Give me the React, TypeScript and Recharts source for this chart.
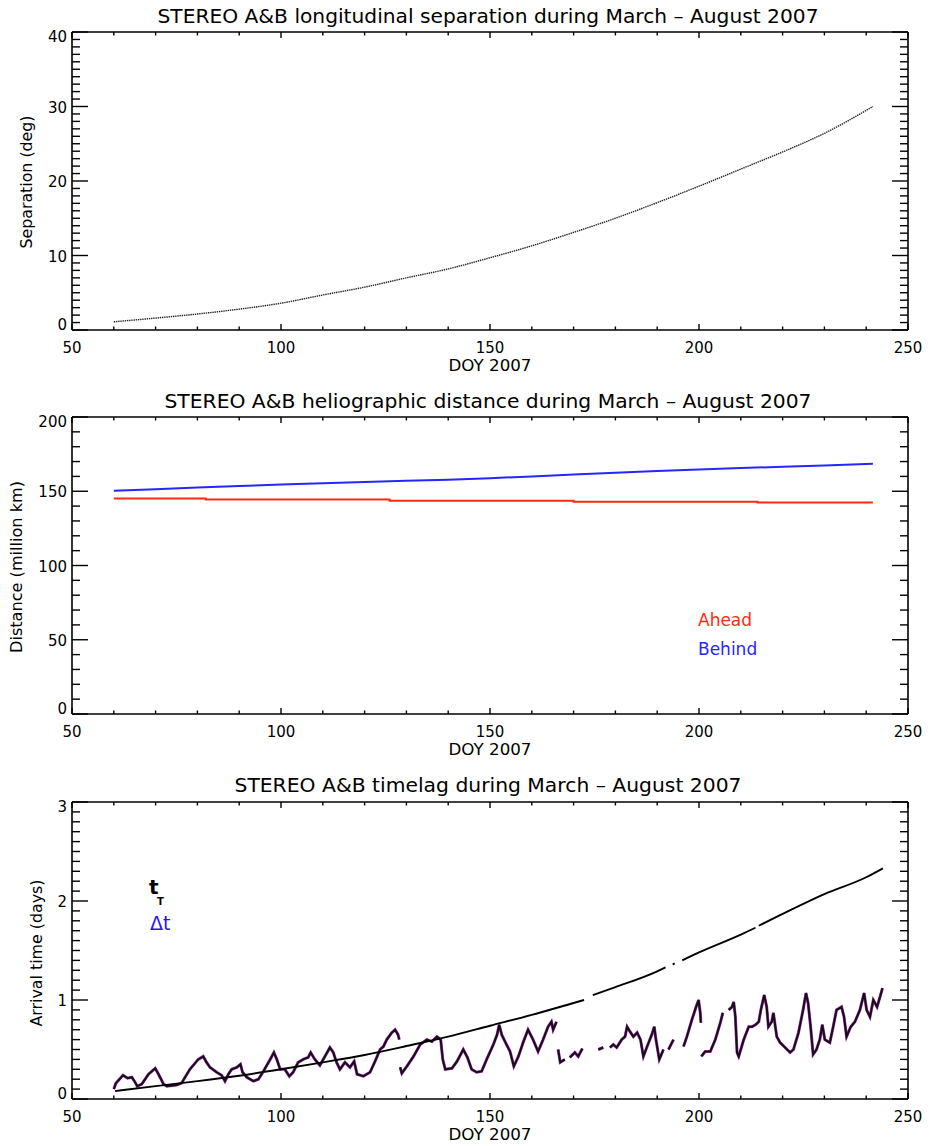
import React from 'react'
import { LineChart, Line, XAxis, YAxis } from 'recharts'

const FONT = '"DejaVu Sans", sans-serif'

// x axis (day of year)
const doyMajor = [50, 100, 150, 200, 250]

// top panel: longitudinal separation (deg)
const sepDoy = [60, 70, 80, 90, 100, 110, 120, 130, 140, 150, 160, 170, 180, 190, 200, 210, 220, 230, 241.6]
const sepDeg = [1.1, 1.6, 2.15, 2.8, 3.6, 4.7, 5.75, 7.0, 8.2, 9.7, 11.3, 13.1, 15.0, 17.1, 19.3, 21.6, 23.9, 26.4, 30.0]
const sepMajor = [0, 10, 20, 30, 40]

// middle panel: heliographic distance (million km)
const behindDoy = [60, 70, 80, 90, 100, 110, 120, 130, 140, 150, 160, 170, 180, 190, 200, 210, 220, 230, 241.6]
const behindDist = [150.3, 151.4, 152.5, 153.5, 154.5, 155.4, 156.3, 157.1, 157.8, 158.8, 160.0, 161.3, 162.5, 163.6, 164.6, 165.6, 166.5, 167.4, 168.6]
const aheadDoy = [60, 82, 126, 170, 214, 241.6]
const aheadDist = [145.1, 144.4, 143.6, 143.0, 142.5, 142.5]
const distMajor = [0, 50, 100, 150, 200]

// bottom panel: t_T (smooth, with data gaps as null)
const ttDoy = [60.3, 70, 80, 90, 100, 110, 120, 130, 140, 150, 160, 170, 172.5, 173.5, 174.6, 180, 190, 192, 193, 193.7, 194.2, 195, 196, 200, 210, 213.5, 213.9, 214.3, 220, 230, 240, 244]
const ttDays = [0.08, 0.13, 0.18, 0.235, 0.3, 0.37, 0.445, 0.535, 0.63, 0.74, 0.85, 0.97, 1.0, null, 1.05, 1.13, 1.29, 1.33, null, 1.36, 1.37, null, 1.4, 1.48, 1.66, 1.73, null, 1.75, 1.87, 2.07, 2.24, 2.33]

// bottom panel: delta t (jagged, null = data gap)
const dtDoy = [
  60.0, 60.5, 62.2, 63.3, 64.3, 65.1, 65.6, 66.7, 68.3, 69.9, 70.7, 71.9, 72.7, 75.0, 76.2, 78.2, 80.2, 81.4, 82.2, 83.0,
  84.6, 85.8, 86.6, 87.4, 88.2, 89.4, 90.3, 90.8, 91.8, 93.4, 94.6, 95.8, 97.4, 98.3, 99.0, 99.8, 100.9, 102.0, 102.9, 104.1,
  105.3, 106.5, 107.1, 108.1, 109.3, 110.5, 111.7, 112.5, 113.3, 114.1, 115.3, 116.5, 117.5, 118.2, 119.7, 121.3, 122.5, 123.7, 124.5, 125.3,
  126.5, 127.3, 128.0, 128.3, 128.4, 128.5, 128.9, 130.1, 131.7, 133.3, 134.9, 136.1, 137.3, 138.2, 138.7, 139.3, 140.9, 142.1, 143.6, 144.6,
  145.6, 146.8, 148.0, 149.2, 150.8, 151.7, 152.2, 152.8, 153.6, 154.8, 155.7, 156.8, 158.0, 159.1, 160.3, 161.5, 162.7, 163.9, 164.7, 165.1,
  165.9, 166.1, 166.3, 166.8, 167.9, 168.5, 169.1, 170.3, 171.1, 172.1, 174.0, 175.9, 177.1, 177.9, 178.7, 179.5, 180.3, 181.5, 182.3, 182.8,
  183.5, 184.3, 185.2, 186.0, 186.7, 187.5, 188.7, 189.3, 189.7, 190.5, 191.5, 192.1, 192.7, 193.9, 195.0, 196.3, 197.1, 198.3, 199.3, 199.9,
  200.3, 200.45, 200.5, 200.55, 201.5, 202.7, 203.9, 205.1, 205.7, 206.4, 207.1, 207.9, 208.3, 208.7, 209.1, 209.5, 210.7, 211.9, 212.7, 213.5,
  214.3, 214.8, 215.6, 216.2, 216.6, 217.4, 217.8, 218.6, 219.4, 220.6, 221.8, 222.6, 223.8, 224.9, 225.6, 226.1, 226.7, 227.3, 228.1, 228.9,
  229.5, 230.1, 231.3, 232.1, 232.9, 234.1, 234.7, 235.3, 236.3, 237.3, 238.5, 239.5, 240.1, 240.9, 241.7, 242.6, 243.3, 243.9,
]
const dtDays = [
  0.1, 0.16, 0.24, 0.21, 0.22, 0.17, 0.13, 0.15, 0.25, 0.31, 0.25, 0.15, 0.13, 0.14, 0.16, 0.3, 0.4, 0.43, 0.37, 0.32,
  0.27, 0.24, 0.18, 0.25, 0.3, 0.32, 0.35, 0.27, 0.22, 0.18, 0.2, 0.28, 0.4, 0.47, 0.4, 0.3, 0.3, 0.23, 0.27, 0.37,
  0.4, 0.42, 0.47, 0.4, 0.34, 0.43, 0.52, 0.47, 0.37, 0.3, 0.37, 0.32, 0.38, 0.25, 0.23, 0.27, 0.38, 0.5, 0.53, 0.6,
  0.67, 0.7, 0.65, 0.6, null, 0.32, 0.26, 0.33, 0.43, 0.55, 0.6, 0.58, 0.63, 0.6, 0.4, 0.3, 0.31, 0.38, 0.5, 0.42,
  0.3, 0.27, 0.28, 0.4, 0.55, 0.65, 0.75, 0.65, 0.58, 0.48, 0.33, 0.43, 0.58, 0.7, 0.6, 0.48, 0.6, 0.73, 0.78, 0.7,
  0.78, null, 0.5, 0.37, 0.4, null, 0.42, 0.47, 0.43, 0.51, null, 0.5, 0.52, null, 0.52, 0.55, 0.52, 0.6, 0.63, 0.73,
  0.68, 0.63, 0.67, 0.6, 0.43, 0.52, 0.65, 0.73, 0.6, 0.4, 0.5, null, 0.5, 0.6, null, 0.53, 0.63, 0.8, 0.93, 1.0,
  0.87, 0.77, null, 0.43, 0.48, 0.48, 0.6, 0.77, 0.87, null, 0.9, 0.93, 0.98, 0.83, 0.47, 0.43, 0.6, 0.73, 0.73, 0.75,
  0.78, 0.9, 1.05, 0.93, 0.73, 0.78, 0.87, 0.63, 0.57, 0.52, 0.47, 0.5, 0.67, 0.9, 1.07, 0.97, 0.73, 0.45, 0.5, 0.6,
  0.75, 0.6, 0.57, 0.73, 0.9, 0.93, 0.83, 0.63, 0.73, 0.78, 0.9, 1.07, 0.9, 0.83, 1.0, 0.93, 1.03, 1.12,
]
const timeMajor = [0, 1, 2, 3]

const steps = (from: number, to: number, step: number) => {
  const out: number[] = []
  for (let v = from; v <= to + step / 2; v += step) out.push(Math.round(v * 1000) / 1000)
  return out
}

const zip = (xs: number[], ys: (number | null)[]) => xs.map((doy, i) => ({ doy, v: ys[i] }))

const W = 930
const AXIS = { stroke: '#000', strokeWidth: 1.6 }
// axes get 1px of room so recharts still draws them; margins are cut by that much
const plotMargin = (top: number, bottom: number) => ({ top: top - 1, bottom: bottom - 1, left: 71, right: 21 })

const isMajor = (v: number, majors: number[]) => majors.some((m) => Math.abs(m - v) < 1e-6)

// ticks are drawn inward, like the IDL plot box
function makeTick(side: 'bottom' | 'top' | 'left' | 'right', majors: number[], majLen: number, minLen: number) {
  const lo = Math.min(...majors)
  const hi = Math.max(...majors)
  return (props: any) => {
    const { x, y, payload } = props
    const v = payload.value
    const major = isMajor(v, majors)
    const len = major ? majLen : minLen
    let line
    if (side === 'bottom') line = <line x1={x} x2={x} y1={y} y2={y - len} />
    else if (side === 'top') line = <line x1={x} x2={x} y1={y} y2={y + len} />
    else if (side === 'left') line = <line x1={x} x2={x + len} y1={y} y2={y} />
    else line = <line x1={x} x2={x - len} y1={y} y2={y} />
    let label = null
    if (major && side === 'bottom') {
      label = (
        <text x={x} y={y + 23} textAnchor="middle" fontSize={15} fontFamily={FONT} fill="#000" stroke="none">
          {v}
        </text>
      )
    }
    if (major && side === 'left') {
      const dy = v === hi ? 5 : v === lo ? -5 : 1
      label = (
        <text x={x - 5} y={y + dy} textAnchor="end" dominantBaseline="central" fontSize={15} fontFamily={FONT} fill="#000" stroke="none">
          {v}
        </text>
      )
    }
    return (
      <g stroke="#000" strokeWidth={1.4}>
        {line}
        {label}
      </g>
    )
  }
}

const doyTicks = steps(50, 250, 10)
const xBottomTick = makeTick('bottom', doyMajor, 6, 3.5)
const xTopTick = makeTick('top', doyMajor, 6, 3.5)

function Axes(yTicks: number[], yMajors: number[]) {
  const dom: [number, number] = [Math.min(...yMajors), Math.max(...yMajors)]
  return [
    <XAxis key="xb" xAxisId="b" dataKey="doy" type="number" domain={[50, 250]} ticks={doyTicks} interval={0}
      height={1} tickSize={0} tickMargin={0} tickLine={false} axisLine={AXIS} tick={xBottomTick} allowDataOverflow />,
    <XAxis key="xt" xAxisId="t" orientation="top" dataKey="doy" type="number" domain={[50, 250]} ticks={doyTicks} interval={0}
      height={1} tickSize={0} tickMargin={0} tickLine={false} axisLine={AXIS} tick={xTopTick} allowDataOverflow />,
    <YAxis key="yl" yAxisId="l" type="number" domain={dom} ticks={yTicks} interval={0} width={1}
      tickSize={0} tickMargin={0} tickLine={false} axisLine={AXIS} tick={makeTick('left', yMajors, 16, 8)} allowDataOverflow />,
    <YAxis key="yr" yAxisId="r" orientation="right" type="number" domain={dom} ticks={yTicks} interval={0} width={1}
      tickSize={0} tickMargin={0} tickLine={false} axisLine={AXIS} tick={makeTick('right', yMajors, 16, 8)} allowDataOverflow />,
  ]
}

function Title({ y, len, children }: { y: number; len: number; children: React.ReactNode }) {
  return (
    <text x={488} y={y} textAnchor="middle" fontSize={19} fontFamily={FONT} fill="#000" textLength={len} lengthAdjust="spacingAndGlyphs">
      {children}
    </text>
  )
}

function XLabel({ y }: { y: number }) {
  return (
    <text x={490} y={y} textAnchor="middle" fontSize={15} fontFamily={FONT} fill="#000" textLength={83} lengthAdjust="spacingAndGlyphs">
      DOY 2007
    </text>
  )
}

function YLabel({ x, y, len, children }: { x: number; y: number; len: number; children: React.ReactNode }) {
  return (
    <text x={x} y={y} transform={`rotate(-90 ${x} ${y})`} textAnchor="middle" dominantBaseline="central" fontSize={15}
      fontFamily={FONT} fill="#000" textLength={len} lengthAdjust="spacingAndGlyphs">
      {children}
    </text>
  )
}

export default function App() {
  const sepData = zip(sepDoy, sepDeg)
  const behindData = zip(behindDoy, behindDist)
  const aheadData = zip(aheadDoy, aheadDist)
  const ttData = zip(ttDoy, ttDays)
  const dtData = zip(dtDoy, dtDays)

  return (
    <div style={{ position: 'absolute', left: 0, top: 0, width: W, height: 1146, background: '#fff' }}>
      <div style={{ position: 'absolute', left: 0, top: 0 }}>
        <LineChart width={W} height={380} data={sepData} margin={plotMargin(32, 50)}>
          {Axes(steps(0, 40, 1), sepMajor)}
          <Line xAxisId="b" yAxisId="l" dataKey="v" type="monotone" stroke="#222" strokeWidth={1.4}
            strokeDasharray="1.4 0.8" dot={false} isAnimationActive={false} />
          <Title y={23} len={661}>STEREO A&amp;B longitudinal separation during March – August 2007</Title>
          <XLabel y={371} />
          <YLabel x={27} y={182} len={133}>Separation (deg)</YLabel>
        </LineChart>
      </div>

      <div style={{ position: 'absolute', left: 0, top: 380 }}>
        <LineChart width={W} height={380} margin={plotMargin(37, 46)}>
          {Axes(steps(0, 200, 10), distMajor)}
          <Line xAxisId="b" yAxisId="l" data={behindData} dataKey="v" type="linear" stroke="#2626ff" strokeWidth={2}
            dot={false} isAnimationActive={false} />
          <Line xAxisId="b" yAxisId="l" data={aheadData} dataKey="v" type="stepAfter" stroke="#ff2a10" strokeWidth={2}
            dot={false} isAnimationActive={false} />
          <Title y={28} len={647}>STEREO A&amp;B heliographic distance during March – August 2007</Title>
          <XLabel y={375} />
          <YLabel x={17} y={187} len={172}>Distance (million km)</YLabel>
          <text x={698} y={246} fontSize={17} fontFamily={FONT} fill="#ff2a10">Ahead</text>
          <text x={698} y={275} fontSize={17} fontFamily={FONT} fill="#2626ff">Behind</text>
        </LineChart>
      </div>

      <div style={{ position: 'absolute', left: 0, top: 760 }}>
        <LineChart width={W} height={386} margin={plotMargin(42, 47)}>
          {Axes(steps(0, 3, 0.1), timeMajor)}
          <Line xAxisId="b" yAxisId="l" data={dtData} dataKey="v" type="linear" stroke="#b030c0" strokeWidth={3}
            dot={false} isAnimationActive={false} />
          <Line xAxisId="b" yAxisId="l" data={dtData} dataKey="v" type="linear" stroke="#111" strokeWidth={2}
            dot={false} isAnimationActive={false} />
          <Line xAxisId="b" yAxisId="l" data={ttData} dataKey="v" type="monotone" stroke="#000" strokeWidth={1.9}
            dot={false} isAnimationActive={false} />
          <Title y={32} len={507}>STEREO A&amp;B timelag during March – August 2007</Title>
          <XLabel y={380} />
          <YLabel x={37} y={193} len={147}>Arrival time (days)</YLabel>
          <text x={149} y={134} fontSize={20} fontWeight="bold" fontFamily={FONT} fill="#000">t</text>
          <text x={157} y={145} fontSize={10} fontWeight="bold" fontFamily={FONT} fill="#000">T</text>
          <text x={150} y={170} fontSize={19} fontFamily={FONT} fill="#2a10ff">Δt</text>
        </LineChart>
      </div>
    </div>
  )
}
